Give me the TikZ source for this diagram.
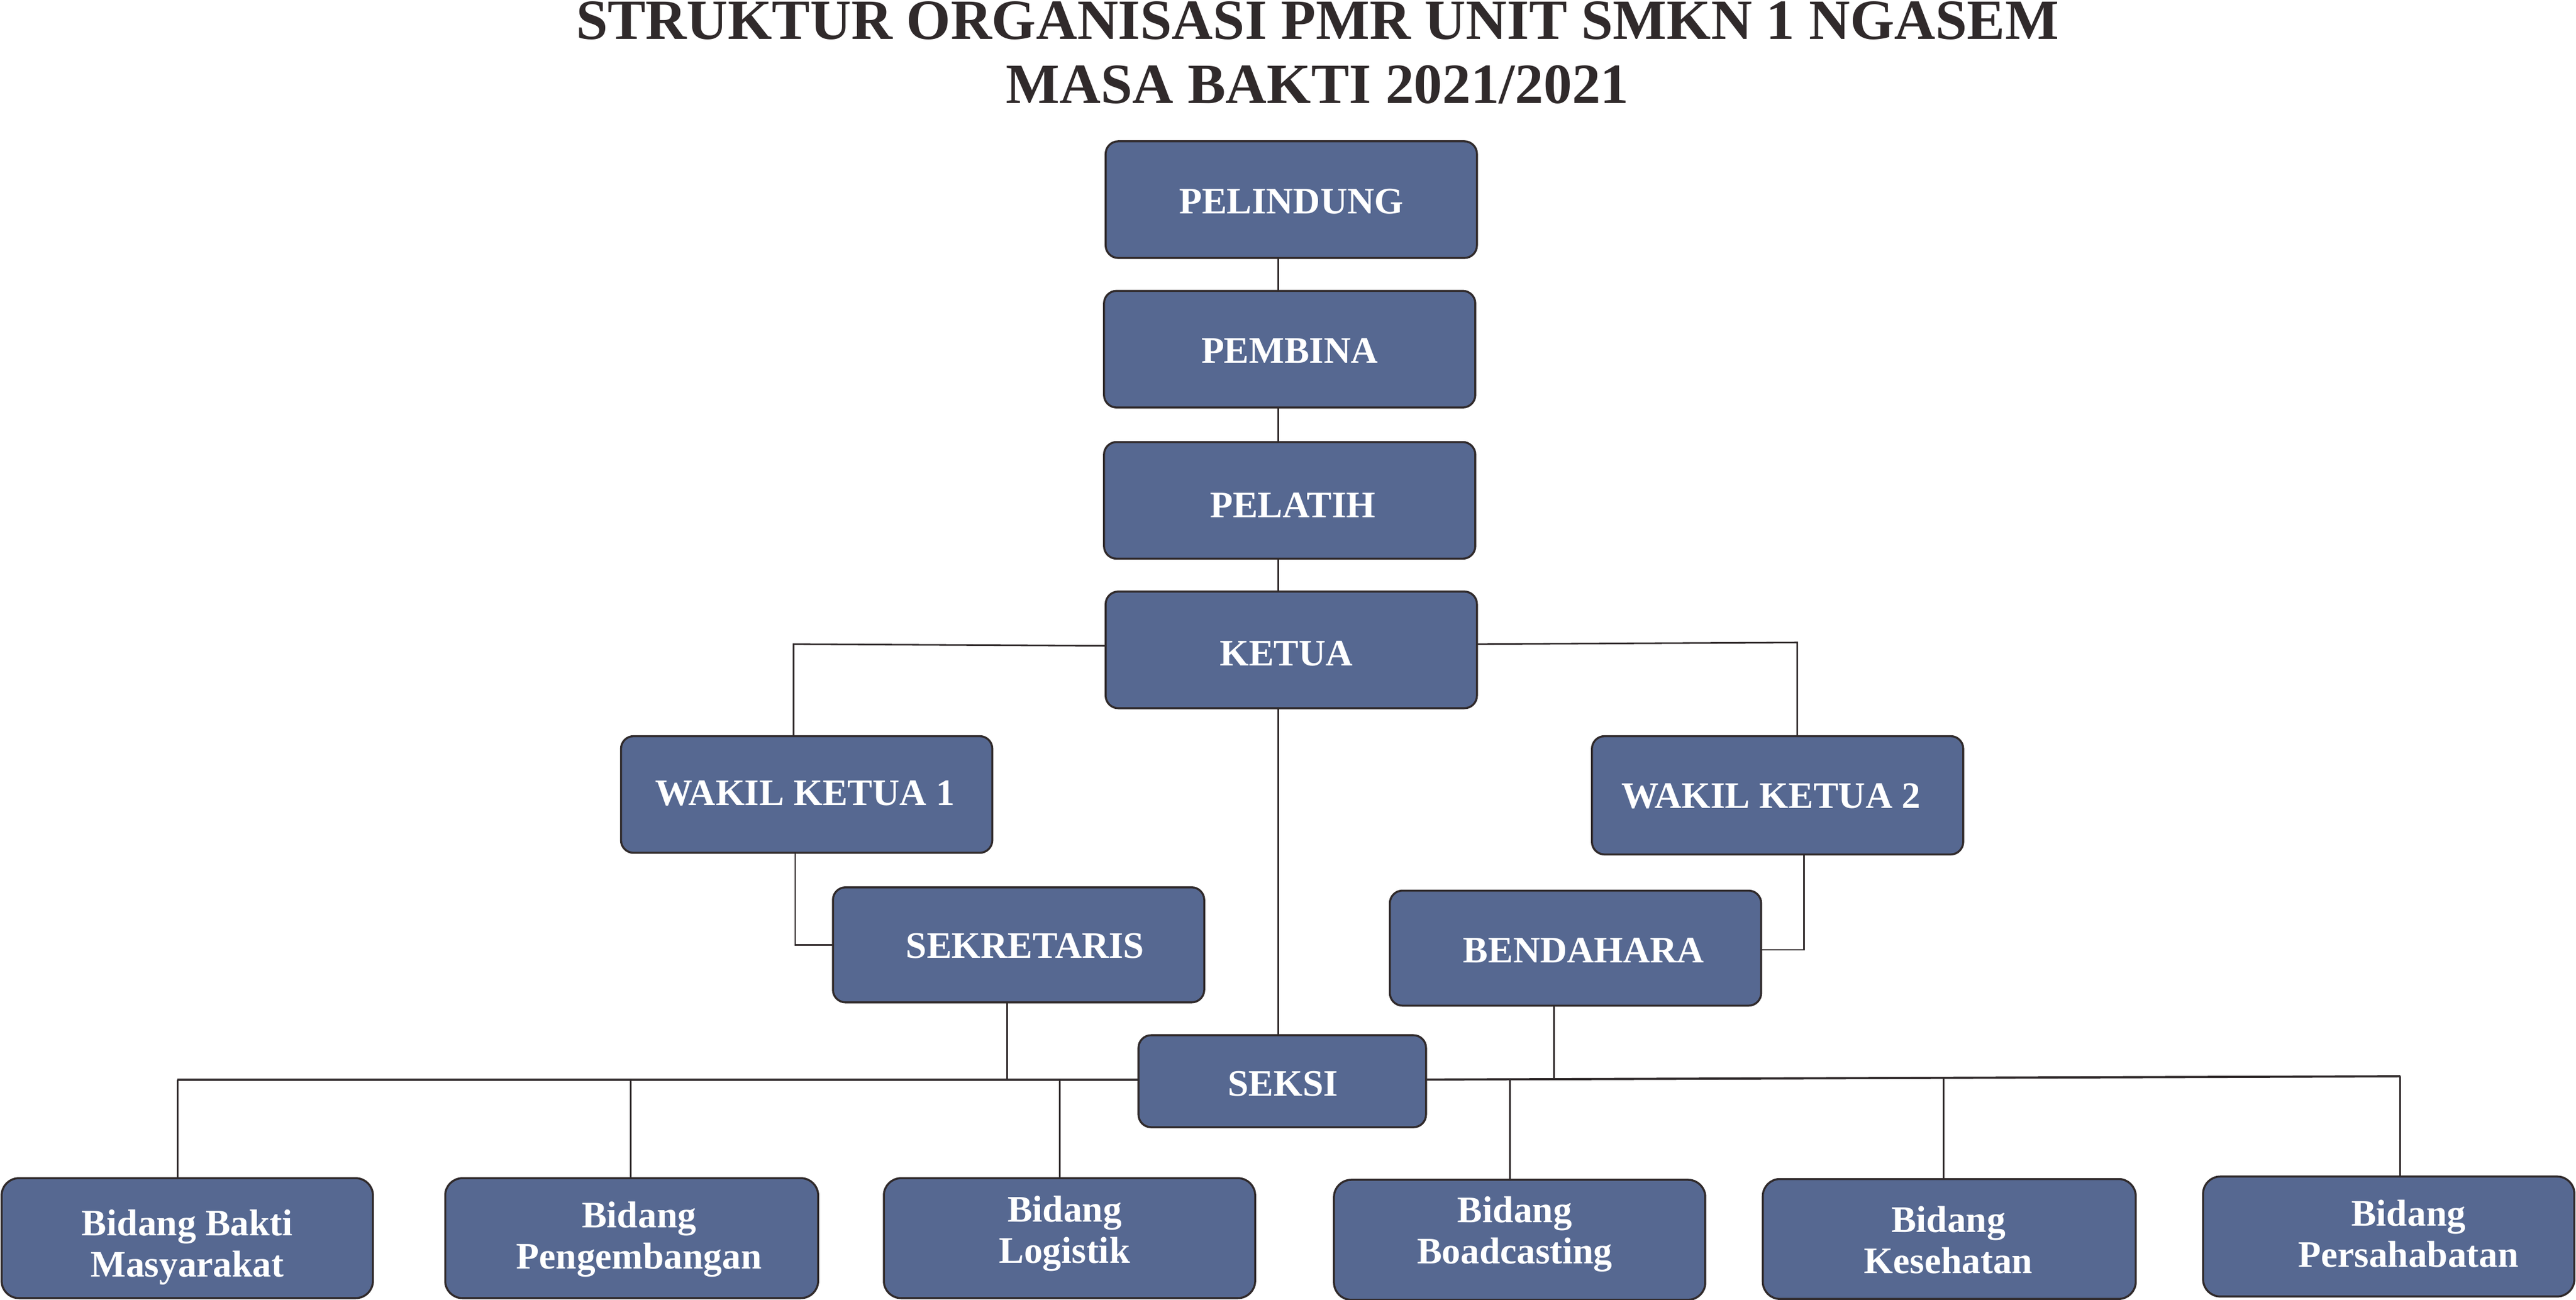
\documentclass[tikz,border=0pt]{standalone}
\usepackage{fontspec}
\setmainfont{Liberation Serif}
\definecolor{boxfill}{RGB}{86,104,145}
\definecolor{ink}{RGB}{48,42,43}
\newcommand\orgbox[6][0.22cm]{\node[box, rounded corners=#1, minimum width=#5*0.02872cm, minimum height=#6*0.02872cm] (#2) at (#3,#4) {};}
\begin{document}
\begin{tikzpicture}[x=0.02872cm,y=-0.02872cm,
  box/.style={draw=ink, fill=boxfill, line width=1pt, inner sep=0pt, outer sep=0pt},
  lbl/.style={text=white, font=\bfseries\fontsize{18.6}{20.4}\selectfont, anchor=base, inner sep=0pt, align=center},
  ttl/.style={text=ink, font=\bfseries\fontsize{28.3}{31.8}\selectfont, anchor=base, inner sep=0pt, align=center},
  conn/.style={draw=ink, line width=0.8pt},
  bus/.style={draw=ink, line width=1.1pt}]
\useasboundingbox (0,0) rectangle (1568,791);

% title (base anchor = baseline of last line)
\node[ttl] (title) at (802,62.7) {STRUKTUR ORGANISASI PMR UNIT SMKN 1 NGASEM\\MASA BAKTI 2021/2021};

% boxes
\orgbox{pel}{786}{121.5}{226}{71}
\orgbox{pemb}{785}{212.5}{226}{71}
\orgbox{pela}{785}{304.5}{226}{71}
\orgbox{ket}{786}{395.5}{226}{71}
\orgbox{wka}{491}{483.5}{226}{71}
\orgbox{wkb}{1082}{484}{226}{72}
\orgbox{sek}{620}{575}{226}{70}
\orgbox{ben}{959}{577}{226}{70}
\orgbox{seksi}{780.5}{658}{175}{56}
\orgbox[0.3cm]{ba}{114}{753.5}{226}{73}
\orgbox[0.3cm]{bb}{384.5}{753.5}{227}{73}
\orgbox[0.3cm]{bc}{651}{753.5}{226}{73}
\orgbox[0.3cm]{bd}{925}{754.5}{226}{73}
\orgbox[0.3cm]{be}{1186.5}{754}{227}{73}
\orgbox[0.3cm]{bf}{1454}{752.5}{226}{73}

% connectors
\draw[conn] (778,0 |- pel.south) -- (778,0 |- pemb.north);
\draw[conn] (778,0 |- pemb.south) -- (778,0 |- pela.north);
\draw[conn] (778,0 |- pela.south) -- (778,0 |- ket.north);
\draw[conn] (ket.west |- 0,393) -- (483,392) -- (483,0 |- wka.north);
\draw[conn] (ket.east |- 0,392) -- (1094,391) -- (1094,0 |- wkb.north);
\draw[conn] (484,0 |- wka.south) -- (484,575) -- (sek.west |- 0,575);
\draw[conn] (1098,0 |- wkb.south) -- (1098,578) -- (ben.east |- 0,578);
\draw[conn] (778,0 |- ket.south) -- (778,0 |- seksi.north);
\draw[conn] (613,0 |- sek.south) -- (613,657);
\draw[conn] (946,0 |- ben.south) -- (946,656.5);

\coordinate (busL) at (108,657);
\coordinate (busR) at (1461,655);
\draw[bus] (seksi.west |- busL) -- (busL);
\draw[bus] (seksi.east |- 0,657) -- (busR);
\draw[conn] (busL) -- (busL |- ba.north);
\draw[conn] (384,657) -- (384,0 |- bb.north);
\draw[conn] (645,657) -- (645,0 |- bc.north);
\draw[conn] (919,656.6) -- (919,0 |- bd.north);
\draw[conn] (1183,656) -- (1183,0 |- be.north);
\draw[conn] (busR) -- (busR |- bf.north);

% labels
\node[lbl] (tpel) at (786,130) {PELINDUNG};
\node[lbl] (tpemb) at (785,221) {PEMBINA};
\node[lbl] (tpela) at (787,315) {PELATIH};
\node[lbl] (tket) at (783,405) {KETUA};
\node[lbl] (twka) at (490,490) {WAKIL KETUA 1};
\node[lbl] (twkb) at (1078,492) {WAKIL KETUA 2};
\node[lbl] (tsek) at (624,583) {SEKRETARIS};
\node[lbl] (tben) at (964,586) {BENDAHARA};
\node[lbl] (tseksi) at (781,667) {SEKSI};
\node[lbl] (tba) at (114,777) {Bidang Bakti\\Masyarakat};
\node[lbl] (tbb) at (389,772) {Bidang\\Pengembangan};
\node[lbl] (tbc) at (648,768.5) {Bidang\\Logistik};
\node[lbl] (tbd) at (922,769) {Bidang\\Boadcasting};
\node[lbl] (tbe) at (1186,775) {Bidang\\Kesehatan};
\node[lbl] (tbf) at (1466,771) {Bidang\\Persahabatan};
\end{tikzpicture}
\end{document}
